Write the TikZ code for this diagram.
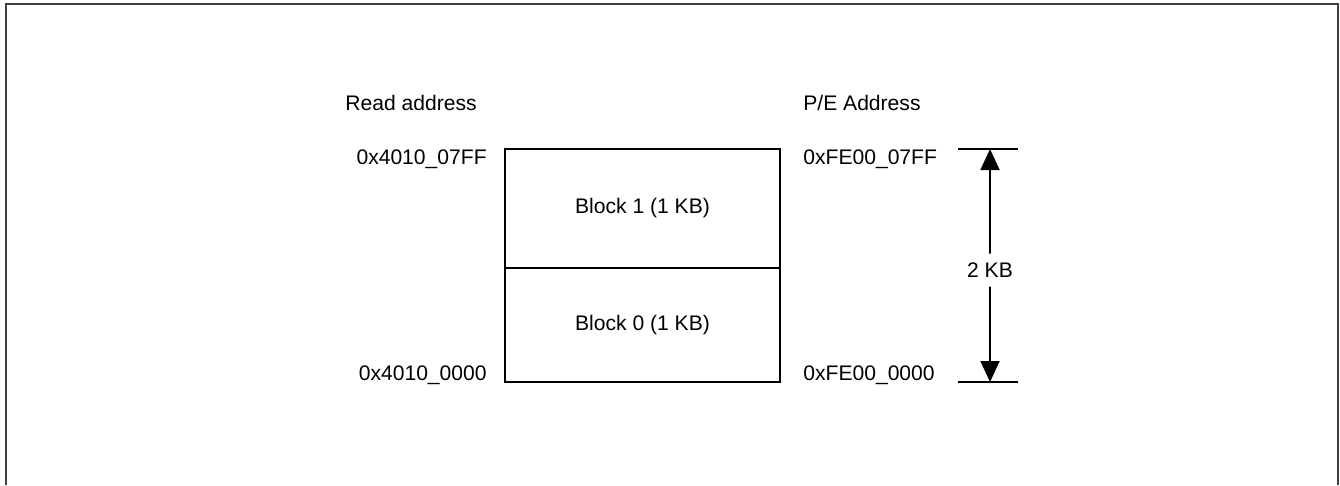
\documentclass[tikz,border=0pt]{standalone}
\usepackage{fontspec}
\setmainfont{Liberation Sans}
\usepackage{tikz}
\usetikzlibrary{arrows.meta, positioning, calc}

\begin{document}
\begin{tikzpicture}[
  font=\fontsize{12}{14}\selectfont,
  memblock/.style = {draw, line width=1pt, minimum width=5.5cm,
                     minimum height=2.33cm, align=center, inner sep=0pt,
                     outer sep=0pt},
  addr/.style     = {inner sep=0pt},
  tick/.style     = {line width=1pt},
  dimarr/.style   = {-{Triangle[width=0.38cm, length=0.42cm]}, line width=1pt},
]
\useasboundingbox (0,0) rectangle (26.8,-9.7);

%% Frame (open at the bottom)
\draw[line width=1.6pt, black!75] (0.12,-9.7) -- (0.12,-0.08) -- (26.76,-0.08) -- (26.76,-9.7);

%% Memory blocks
\node[memblock, minimum height=2.38cm] (blk1) at (12.85,-4.17) {Block 1 (1 KB)};
\node[memblock, minimum height=2.28cm, below=0pt of blk1] (blk0) {Block 0 (1 KB)};

%% Column headings
\node[addr, anchor=west] (readhd) at (6.9,-2.06) {Read address};
\node[addr, anchor=west] (pehd)   at (16.06,-2.06) {P/E Address};

%% Read addresses
\node[addr, anchor=east] (rdtop) at ($(blk1.north west)+(-0.36,-0.2)$) {0x4010\_07FF};
\node[addr, anchor=east] (rdbot) at ($(blk0.south west)+(-0.36,0.14)$) {0x4010\_0000};

%% P/E addresses
\node[addr, anchor=west] (petop) at ($(blk1.north east)+(0.46,-0.2)$) {0xFE00\_07FF};
\node[addr, anchor=west] (pebot) at ($(blk0.south east)+(0.46,0.14)$) {0xFE00\_0000};

%% Size dimension
\coordinate (toptick) at ($(blk1.north east)+(4.2,0)$);
\coordinate (bottick) at ($(blk0.south east)+(4.2,0)$);
\draw[tick] ([xshift=-0.64cm]toptick) -- ([xshift=0.56cm]toptick);
\draw[tick] ([xshift=-0.64cm]bottick) -- ([xshift=0.56cm]bottick);
\node[inner sep=5pt] (size) at ($(toptick)!0.52!(bottick)$) {2 KB};
\draw[dimarr] (size.north) -- (toptick);
\draw[dimarr] (size.south) -- (bottick);

\end{tikzpicture}
\end{document}
